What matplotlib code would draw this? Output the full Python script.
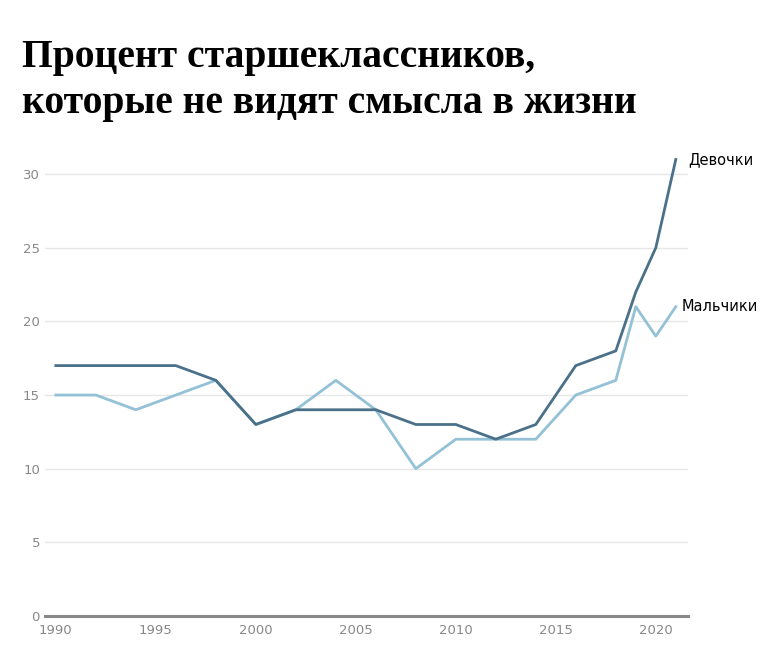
import matplotlib.pyplot as plt

years = [1990, 1992, 1994, 1996, 1998, 2000, 2002, 2004, 2006, 2008,
         2010, 2012, 2014, 2016, 2018, 2019, 2020, 2021]
girls = [17, 17, 17, 17, 16, 13, 14, 14, 14, 13, 13, 12, 13, 17, 18, 22, 25, 31]
boys = [15, 15, 14, 15, 16, 13, 14, 16, 14, 10, 12, 12, 12, 15, 16, 21, 19, 21]

xticks = [1990, 1995, 2000, 2005, 2010, 2015, 2020]
yticks = [0, 5, 10, 15, 20, 25, 30]

fig = plt.figure(figsize=(7.6, 6.58), dpi=100)
ax = fig.add_axes([0.059, 0.064, 0.846, 0.716])

ax.plot(years, boys, color='#93c1d6', lw=2)
ax.plot(years, girls, color='#4a7189', lw=2)

ax.set_xlim(1989.45, 2021.6)
ax.set_ylim(0, 32)
ax.set_xticks(xticks)
ax.set_yticks(yticks)
ax.grid(axis='y', color='#e6e6e6', lw=1)
ax.set_axisbelow(True)
for s in ['top', 'right', 'left']:
    ax.spines[s].set_visible(False)
ax.spines['bottom'].set_color('#888888')
ax.spines['bottom'].set_linewidth(2.2)
ax.tick_params(length=0, colors='#888888', labelsize=9.5)
ax.tick_params(axis='x', pad=6)

ax.text(2021.6, 31, 'Девочки', fontsize=10.5, va='center', ha='left')
ax.text(2021.3, 21, 'Мальчики', fontsize=10.5, va='center', ha='left')

fig.text(0.029, 0.94, 'Процент старшеклассников,\nкоторые не видят смысла в жизни',
         fontsize=28.5, fontweight='bold', family='Liberation Serif',
         va='top', ha='left', linespacing=1.3)

fig.savefig('out.png', dpi=100)
